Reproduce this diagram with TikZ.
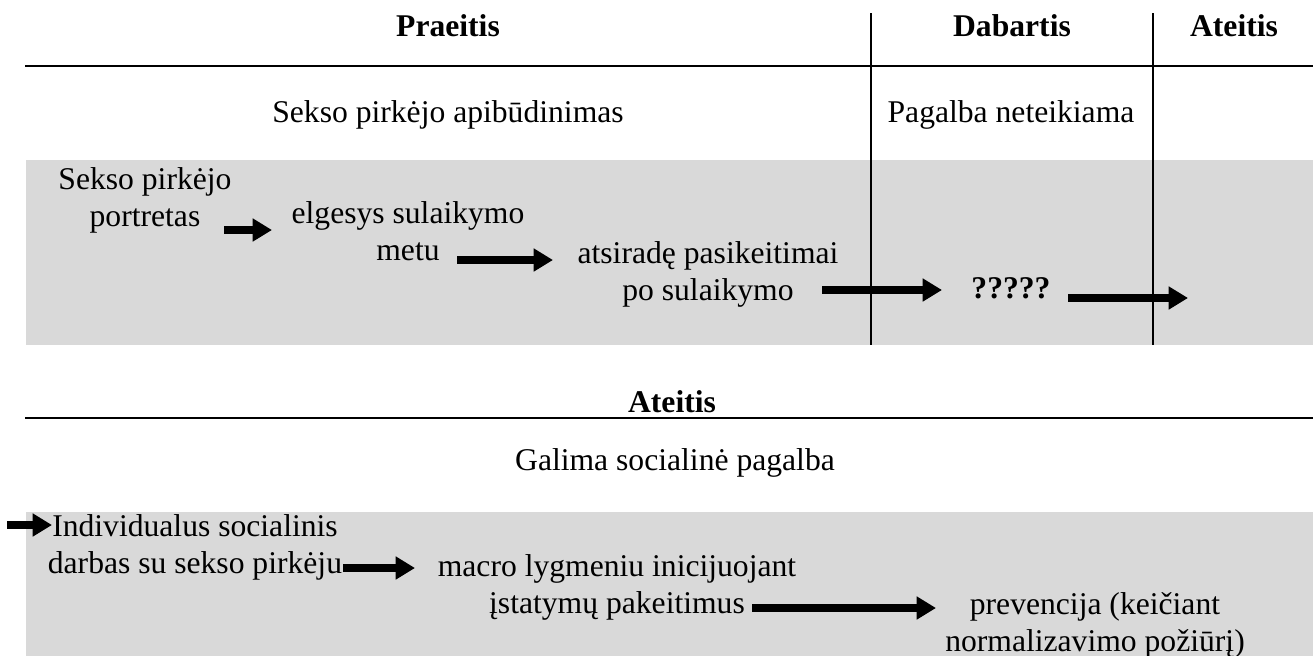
\documentclass[tikz,border=0pt]{standalone}
\usepackage{fontspec}
\setmainfont{Liberation Serif}
\usetikzlibrary{arrows.meta}
\definecolor{juosta}{RGB}{217,217,217}

\begin{document}
\begin{tikzpicture}[%
    x=0.02cm, y=-0.02cm,                % one unit = one pixel of the layout, y runs down
    font=\fontsize{18}{21}\selectfont,  % Times-like body text
    >={Triangle[length=11pt,width=12.5pt]},
    ]
% -------------------------------------------------
% Styles
\tikzset{
  txt/.style={inner sep=0pt, align=center},
  hdr/.style={txt, font=\fontsize{18}{21}\selectfont\bfseries},
  % rules of the table
  skyr/.style={line width=1.1pt},
  stulp/.style={line width=0.9pt},
  % fat arrows between the stages
  arr/.style={->, line width=4pt},
  fonas/.style={fill=juosta, draw=none}
}
\useasboundingbox (0,0) rectangle (1313,656);
% -------------------------------------------------
% Grey bands first
\fill[fonas] (26,160) rectangle (1313,345);
\fill[fonas] (26,512) rectangle (1313,656);

% Upper table
\node [hdr] (praeitis) at (448,26) {Praeitis};
\node [hdr] (dabartis) at (1012,26) {Dabartis};
\node [hdr] (ateitis)  at (1234,26) {Ateitis};
\draw[skyr] (25,66) -- (1313,66);
\draw[stulp] (871,13) -- (871,345);
\draw[stulp] (1153,13) -- (1153,345);

\node [txt] (apibud)  at (448,115)  {Sekso pirkėjo apibūdinimas};
\node [txt] (pagalba) at (1011,115) {Pagalba neteikiama};

\node [txt] (portretas) at (145,200) {Sekso pirkėjo\\portretas};
\node [txt] (elgesys)   at (408,231) {elgesys sulaikymo\\metu};
\node [txt] (atsirade)  at (708,274) {atsiradę pasikeitimai\\po sulaikymo};
\node [hdr] (klaus)     at (1011,288) {?????};
\coordinate (rytoj) at (1188,298);

\draw[arr] ([shift={(79,30)}]portretas.center) -- ([shift={(-136,-1)}]elgesys.center);	%portretas,elgesys
\draw[arr] ([shift={(49,29)}]elgesys.center) -- ([shift={(-155,-14)}]atsirade.center);	%elgesys,pasikeitimai
\draw[arr] ([shift={(114,16)}]atsirade.center) -- ([shift={(-69,2)}]klaus.center);	%pasikeitimai,?????
\draw[arr] ([shift={(57,10)}]klaus.center) -- (rytoj);	%?????,ateitis

% Lower table
\node [hdr] (ateitis2) at (672,402) {Ateitis};
\draw[skyr] (25,418) -- (1313,418);
\node [txt] (galima) at (675,463) {Galima socialinė pagalba};

\coordinate (pradzia) at (7,525);
\node [txt] (individ) at (195,547) {Individualus socialinis\\darbas su sekso pirkėju};
\node [txt] (macro)   at (617,587) {macro lygmeniu inicijuojant\\įstatymų pakeitimus};
\node [txt] (prevenc) at (1095,625) {prevencija (keičiant\\normalizavimo požiūrį)};

\draw[arr] (pradzia) -- ([shift={(-143,-22)}]individ.center);	%pradzia,individualus
\draw[arr] ([shift={(148,21)}]individ.center) -- ([shift={(-202,-19)}]macro.center);	%individualus,macro
\draw[arr] ([shift={(135,21)}]macro.center) -- ([shift={(-159,-17)}]prevenc.center);	%macro,prevencija

% -------------------------------------------------
\end{tikzpicture}
\end{document}
